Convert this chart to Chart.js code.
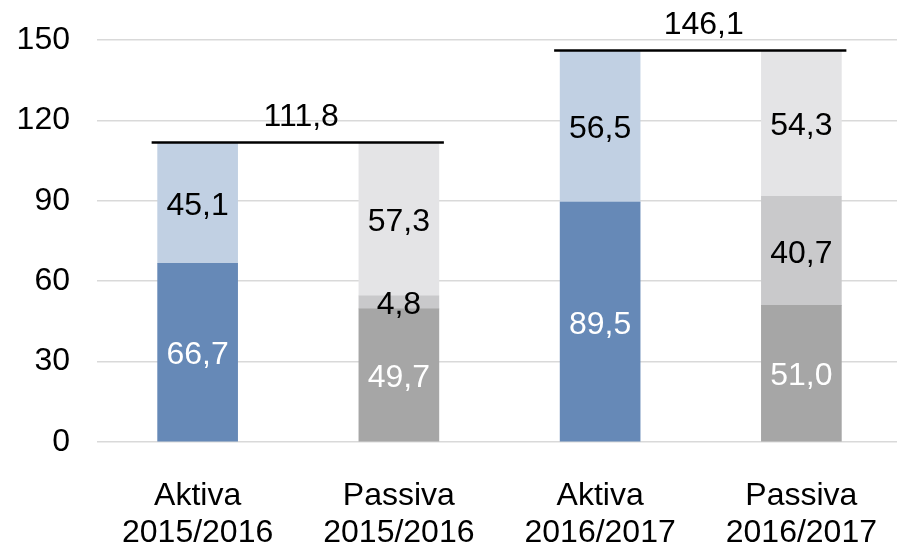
<!DOCTYPE html>
<html>
<head>
<meta charset="utf-8">
<script src="https://cdn.jsdelivr.net/npm/chart.js@4"></script>
<style>
html,body{margin:0;padding:0;background:#fff;overflow:hidden;}
#wrap{width:902px;height:548px;position:relative;}
</style>
</head>
<body>
<div id="wrap"><canvas id="c"></canvas></div>
<script>
const categories = [["Aktiva","2015/2016"],["Passiva","2015/2016"],["Aktiva","2016/2017"],["Passiva","2016/2017"]];
const aktivaBase  = [66.7, null, 89.5, null];
const aktivaTop   = [45.1, null, 56.5, null];
const passivaBase = [null, 49.7, null, 51.0];
const passivaMid  = [null, 4.8, null, 40.7];
const passivaTop  = [null, 57.3, null, 54.3];
const totals      = [111.8, 146.1];
const totalPairs  = [[0,1],[2,3]];
const yTicks      = [0, 30, 60, 90, 120, 150];

const FONT = "'Liberation Sans', Arial, sans-serif";
const FS = 32;
const fmt = v => v.toFixed(1).replace('.', ',');

const datasets = [
  {data: aktivaBase,  backgroundColor:'#6689b7', labelColor:'#ffffff'},
  {data: aktivaTop,   backgroundColor:'#c1d0e3', labelColor:'#000000'},
  {data: passivaBase, backgroundColor:'#a6a6a6', labelColor:'#ffffff'},
  {data: passivaMid,  backgroundColor:'#c9c9cb', labelColor:'#000000'},
  {data: passivaTop,  backgroundColor:'#e4e4e6', labelColor:'#000000'}
].map(d => Object.assign(d, {stack:'s', barThickness:80, borderWidth:0}));

const labelPlugin = {
  id:'labels',
  afterDatasetsDraw(chart){
    const ctx = chart.ctx;
    const y = chart.scales.y;
    ctx.save();
    ctx.font = FS + 'px ' + FONT;
    ctx.textAlign = 'center';
    ctx.textBaseline = 'middle';
    chart.data.datasets.forEach((ds, di) => {
      const meta = chart.getDatasetMeta(di);
      meta.data.forEach((bar, i) => {
        const v = ds.data[i];
        if (v === null || v === undefined) return;
        const mid = (bar.y + bar.base) / 2;
        ctx.fillStyle = ds.labelColor;
        ctx.fillText(fmt(v), bar.x, mid + 3);
      });
    });
    totals.forEach((t, k) => {
      const [a, b] = totalPairs[k];
      const barA = chart.getDatasetMeta(0).data[a];
      const barB = chart.getDatasetMeta(4).data[b];
      const left = barA.x - barA.width/2 - 6;
      const right = barB.x + barB.width/2 + 5;
      const py = y.getPixelForValue(t);
      ctx.strokeStyle = '#000';
      ctx.lineWidth = 2.5;
      ctx.beginPath();
      ctx.moveTo(left, py);
      ctx.lineTo(right, py);
      ctx.stroke();
      ctx.fillStyle = '#000';
      ctx.fillText(fmt(t), (barA.x + barB.x)/2 + 3, py - 25);
    });
    ctx.restore();
  }
};

new Chart(document.getElementById('c'), {
  type:'bar',
  data:{labels:categories, datasets:datasets},
  options:{
    responsive:true,
    maintainAspectRatio:false,
    animation:false,
    devicePixelRatio:1,
    layout:{padding:{top:40,left:0,right:0,bottom:0}},
    plugins:{legend:{display:false}, tooltip:{enabled:false}},
    scales:{
      x:{
        stacked:true,
        afterFit(scale){ scale.height = 106; scale.paddingLeft = 0; scale.paddingRight = 0; },
        grid:{display:false, drawTicks:false},
        border:{display:false},
        ticks:{color:'#000', font:{family:FONT, size:FS, lineHeight:1.15}, padding:36, maxRotation:0, autoSkip:false}
      },
      y:{
        stacked:true,
        min:0, max:150,
        afterBuildTicks(scale){ scale.ticks = yTicks.map(v => ({value:v})); },
        afterFit(scale){ scale.width = 97; scale.paddingTop = 0; scale.paddingBottom = 0; },
        grid:{color:'#d9d9d9', lineWidth:1.5, drawTicks:false},
        border:{display:false},
        ticks:{color:'#000', font:{family:FONT, size:FS}, padding:27}
      }
    }
  },
  plugins:[labelPlugin]
});
</script>
</body>
</html>
